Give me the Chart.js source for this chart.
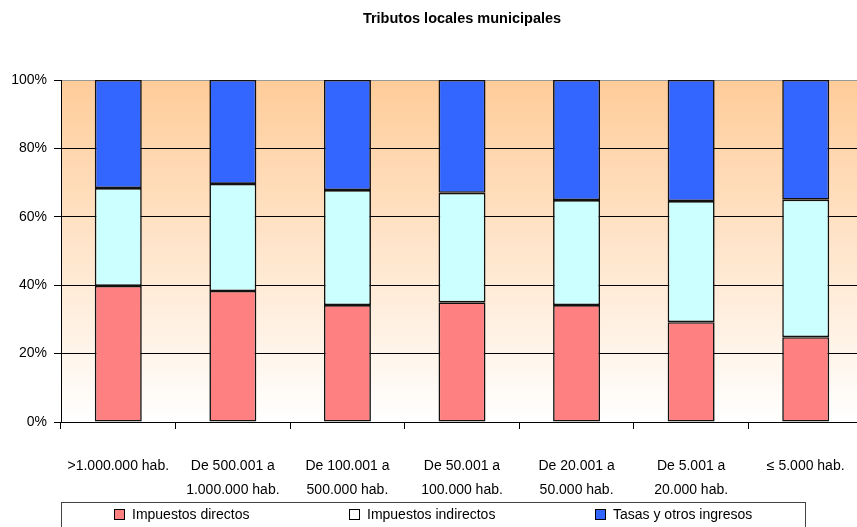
<!DOCTYPE html>
<html>
<head>
<meta charset="utf-8">
<script src="https://cdn.jsdelivr.net/npm/chart.js@4/dist/chart.umd.min.js"></script>
<style>
  body { margin: 0; background: #fff; }
  #wrap { position: relative; width: 857px; height: 527px; overflow: hidden; }
  #leyenda {
    position: absolute; left: 61px; top: 502px; width: 745px; height: 40px;
    border: 1px solid #444; box-sizing: border-box;
    font-family: 'Liberation Sans', Arial, sans-serif; font-size: 14px; color: #000;
  }
  .item { position: absolute; top: 3px; white-space: nowrap; line-height: 16px; }
  .caja { display: inline-block; width: 11px; height: 11px; border: 1px solid #000;
          box-sizing: border-box; margin-right: 7px; vertical-align: -1px; }
</style>
</head>
<body>
<div id="wrap">
  <canvas id="tributosChart" width="863" height="527"></canvas>
  <div id="leyenda"></div>
</div>
<script>
// categorias (tramos de poblacion)
const tramos = [
  ['>1.000.000 hab.'],
  ['De 500.001 a', '1.000.000 hab.'],
  ['De 100.001 a', '500.000 hab.'],
  ['De 50.001 a', '100.000 hab.'],
  ['De 20.001 a', '50.000 hab.'],
  ['De 5.001 a', '20.000 hab.'],
  ['≤ 5.000 hab.']
];

// porcentajes de cada tributo
const impuestosDirectos   = [39.8, 38.3, 34.2, 35.0, 34.2, 29.2, 24.8];
const impuestosIndirectos = [28.6, 31.3, 33.6, 32.0, 30.7, 35.4, 40.2];
const tasasOtros          = [31.6, 30.4, 32.2, 33.0, 35.1, 35.4, 35.0];

const nombresSeries = ['Impuestos directos', 'Impuestos indirectos', 'Tasas y otros ingresos'];
const coloresSeries = ['#FF8080', '#CCFFFF', '#3366FF'];
const coloresLeyenda = ['#FF8080', '#FFFFFF', '#3366FF'];
const posLeyenda = [52, 287, 533]; // x de cada elemento dentro del recuadro

const ticksY = [0, 20, 40, 60, 80, 100];

Chart.defaults.font.family = "'Liberation Sans', Arial, sans-serif";
Chart.defaults.color = '#000';

// fondo degradado del area de trazado
const fondoDegradado = {
  id: 'fondoDegradado',
  beforeDraw(chart) {
    const { ctx, chartArea } = chart;
    const g = ctx.createLinearGradient(0, chartArea.top, 0, chartArea.bottom);
    g.addColorStop(0, '#FFCC99');
    g.addColorStop(1, '#FFFFFF');
    ctx.save();
    ctx.fillStyle = g;
    ctx.fillRect(chartArea.left, chartArea.top, chartArea.right - chartArea.left, chartArea.bottom - chartArea.top);
    ctx.restore();
  }
};

const series = [impuestosDirectos, impuestosIndirectos, tasasOtros];

const ctx = document.getElementById('tributosChart').getContext('2d');
new Chart(ctx, {
  type: 'bar',
  data: {
    labels: tramos,
    datasets: series.map((valores, i) => ({
      label: nombresSeries[i],
      data: valores,
      backgroundColor: coloresSeries[i],
      borderColor: '#111',
      borderWidth: 1.6,
      borderSkipped: false,
      categoryPercentage: 1,
      barPercentage: 0.41
    }))
  },
  options: {
    responsive: false,
    animation: false,
    layout: { padding: 0 },
    plugins: {
      legend: { display: false },
      tooltip: { enabled: false },
      title: {
        display: true,
        text: 'Tributos locales municipales',
        fullSize: false,
        font: { size: 14.5, weight: 'bold' },
        color: '#000',
        padding: { top: 10, bottom: 52.6 }
      }
    },
    scales: {
      x: {
        stacked: true,
        grid: { drawOnChartArea: false, drawTicks: true, tickLength: 7, tickColor: '#000', offset: true },
        border: { display: true, color: '#000' },
        ticks: { padding: 25, font: { size: 14, lineHeight: '24px' }, maxRotation: 0, autoSkip: false },
        afterFit(scale) {
          scale.height = 105;
          scale.paddingLeft = 0;
          scale.paddingRight = 0;
        }
      },
      y: {
        stacked: true,
        min: 0,
        max: 100,
        afterBuildTicks(scale) {
          scale.ticks = ticksY.map(v => ({ value: v }));
        },
        grid: {
          color: c => (c.tick && c.tick.value === 100) ? '#999' : '#000',
          tickColor: '#000',
          tickLength: 7,
          lineWidth: 1
        },
        border: { display: true, color: '#000' },
        ticks: {
          padding: 7,
          font: { size: 14 },
          callback: v => v + '%'
        },
        afterFit(scale) {
          scale.width = 61;
          scale.paddingTop = 0;
          scale.paddingBottom = 0;
        }
      }
    }
  },
  plugins: [fondoDegradado]
});

// leyenda en HTML con los mismos nombres y colores
const leyenda = document.getElementById('leyenda');
nombresSeries.forEach((nombre, i) => {
  const item = document.createElement('div');
  item.className = 'item';
  item.style.left = posLeyenda[i] + 'px';
  item.innerHTML = '<span class="caja" style="background:' + coloresLeyenda[i] + '"></span>' + nombre;
  leyenda.appendChild(item);
});
</script>
</body>
</html>
